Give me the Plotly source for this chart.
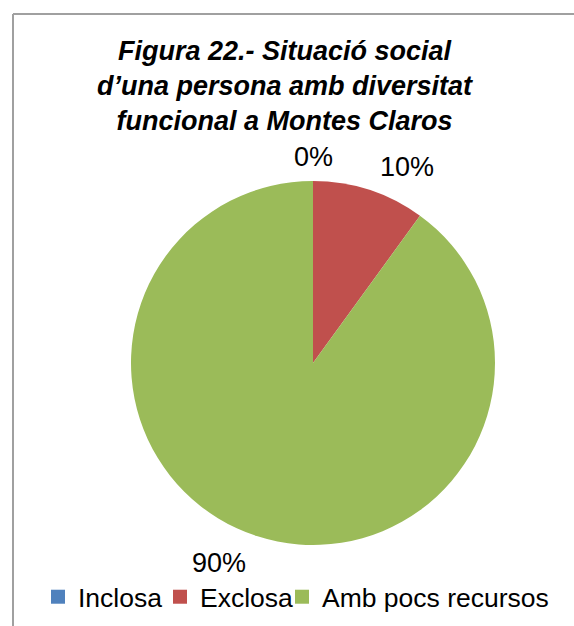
import plotly.graph_objects as go

W, H = 574, 626

categories = ["Inclosa", "Exclosa", "Amb pocs recursos"]
values = [0, 10, 90]
colors = ["#4F81BD", "#C0504D", "#9BBB59"]
title_lines = ["Figura 22.- Situació social", "d\u2019una persona amb diversitat", "funcional a Montes Claros"]

# label placement (pixel centres), styling only
label_px = [(313, 157), (407, 167), (219, 563)]

FONT = "Liberation Sans, Arial, sans-serif"

def px(x, y):
    return x / W, 1 - y / H

fig = go.Figure(go.Pie(
    labels=categories, values=values,
    marker=dict(colors=colors, line=dict(width=0)),
    sort=False, direction="clockwise", rotation=0,
    textinfo="none", hoverinfo="label+percent",
    domain=dict(x=[131 / W, 495 / W], y=[1 - 545 / H, 1 - 181 / H]),
))

total = sum(values)
annotations = []
for v, (lx, ly) in zip(values, label_px):
    ax, ay = px(lx, ly)
    annotations.append(dict(
        x=ax, y=ay, xref="paper", yref="paper", xanchor="center", yanchor="middle",
        text=f"{round(100 * v / total)}%", showarrow=False,
        font=dict(family=FONT, size=27, color="black"),
    ))

tx, ty = px(285, 86)
annotations.append(dict(
    x=tx, y=ty, xref="paper", yref="paper", xanchor="center", yanchor="middle",
    text="<br>".join(f"<b><i>{t}</i></b>" for t in title_lines), showarrow=False,
    align="center", font=dict(family=FONT, size=27, color="black"),
))

bx, by = px(13, 14)
shapes = [
    dict(type="line", xref="paper", yref="paper", x0=bx, y0=0, x1=bx, y1=by,
         line=dict(color="#a0a0a0", width=2)),
    dict(type="line", xref="paper", yref="paper", x0=bx, y0=by, x1=1, y1=by,
         line=dict(color="#a0a0a0", width=2)),
]

lx, ly = px(38, 597)
fig.update_layout(
    width=W, height=H,
    margin=dict(l=0, r=0, t=0, b=0),
    paper_bgcolor="white", plot_bgcolor="white",
    showlegend=True,
    legend=dict(orientation="h", x=lx, y=ly, xanchor="left", yanchor="middle",
                font=dict(family=FONT, size=26.5, color="black"),
                entrywidth=77, entrywidthmode="pixels",
                bgcolor="rgba(0,0,0,0)", itemclick=False),
    annotations=annotations,
    shapes=shapes,
)

post = """
document.body.style.margin='0';
document.querySelectorAll('.legend .scrollbox').forEach(function(e){e.removeAttribute('clip-path');});
document.querySelectorAll('.legend .legendpoints path').forEach(function(e){e.setAttribute('d','M7,7H-7V-7H7Z');});
"""
fig.write_html("out.html", post_script=post, config={"displayModeBar": False})
